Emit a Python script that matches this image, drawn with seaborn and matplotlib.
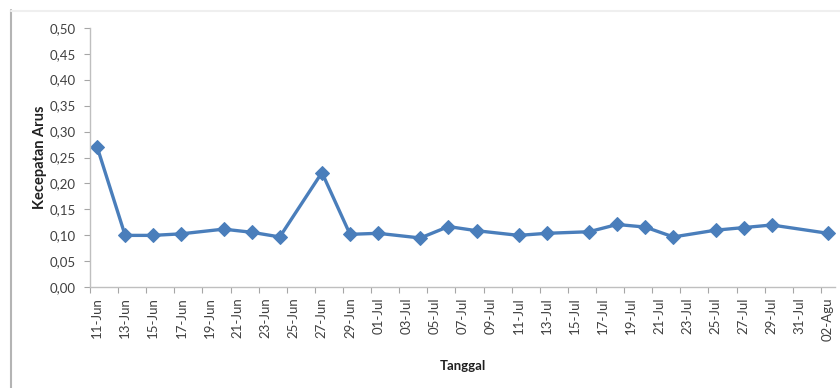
import matplotlib
matplotlib.use("Agg")
import matplotlib.pyplot as plt
import matplotlib.dates as mdates
from matplotlib.lines import Line2D
from matplotlib.ticker import FixedLocator
import seaborn as sns
import pandas as pd

# ---- data ----
dates = ["2019-06-11", "2019-06-13", "2019-06-15", "2019-06-17", "2019-06-20",
         "2019-06-22", "2019-06-24", "2019-06-27", "2019-06-29", "2019-07-01",
         "2019-07-04", "2019-07-06", "2019-07-08", "2019-07-11", "2019-07-13",
         "2019-07-16", "2019-07-18", "2019-07-20", "2019-07-22", "2019-07-25",
         "2019-07-27", "2019-07-29", "2019-08-02"]
speeds = [0.271, 0.100, 0.100, 0.103, 0.112, 0.106, 0.097, 0.221, 0.102, 0.104,
          0.095, 0.117, 0.109, 0.100, 0.104, 0.107, 0.121, 0.116, 0.097, 0.110,
          0.115, 0.120, 0.104]
tick_dates = ["2019-06-11", "2019-06-13", "2019-06-15", "2019-06-17", "2019-06-19",
              "2019-06-21", "2019-06-23", "2019-06-25", "2019-06-27", "2019-06-29",
              "2019-07-01", "2019-07-03", "2019-07-05", "2019-07-07", "2019-07-09",
              "2019-07-11", "2019-07-13", "2019-07-15", "2019-07-17", "2019-07-19",
              "2019-07-21", "2019-07-23", "2019-07-25", "2019-07-27", "2019-07-29",
              "2019-07-31", "2019-08-02"]
tick_labels = ["11-Jun", "13-Jun", "15-Jun", "17-Jun", "19-Jun", "21-Jun", "23-Jun",
               "25-Jun", "27-Jun", "29-Jun", "01-Jul", "03-Jul", "05-Jul", "07-Jul",
               "09-Jul", "11-Jul", "13-Jul", "15-Jul", "17-Jul", "19-Jul", "21-Jul",
               "23-Jul", "25-Jul", "27-Jul", "29-Jul", "31-Jul", "02-Agu"]
y_ticks = [0.00, 0.05, 0.10, 0.15, 0.20, 0.25, 0.30, 0.35, 0.40, 0.45, 0.50]

df = pd.DataFrame({"Tanggal": pd.to_datetime(dates), "Kecepatan Arus": speeds})

sns.set_theme(style="white")
plt.rcParams["font.family"] = ["Lato", "DejaVu Sans"]

W, H = 840, 388
fig = plt.figure(figsize=(W / 100, H / 100), dpi=100)
ax = fig.add_axes([90 / W, 1 - 287.3 / H, (835 - 90) / W, (287.3 - 27.7) / H])

blue = "#4A7EBB"
sns.lineplot(data=df, x="Tanggal", y="Kecepatan Arus", ax=ax, color=blue,
             linewidth=2.4, marker="D", markersize=7.5, markeredgecolor=blue,
             markerfacecolor=blue)

tnum = mdates.date2num(pd.to_datetime(tick_dates))
ax.set_xlim(tnum[0] - 0.5, tnum[-1] + 0.5)
ax.set_ylim(0, 0.5)

ax.set_xticks(tnum)
ax.set_xticklabels(tick_labels, rotation=90, fontsize=9.5, color="#404040")
ax.xaxis.set_minor_locator(FixedLocator(list(tnum - 0.5)))
ax.tick_params(axis="x", which="major", length=0, pad=7)
ax.tick_params(axis="x", which="minor", length=4, width=0.8, color="#A6A6A6",
               bottom=True)

ax.set_yticks(y_ticks)
ax.set_yticklabels([f"{v:.2f}".replace(".", ",") for v in y_ticks],
                   fontsize=9.5, color="#404040")
ax.tick_params(axis="y", which="major", length=4, width=0.8, color="#A6A6A6",
               left=True, pad=6)

for s in ["top", "right"]:
    ax.spines[s].set_visible(False)
for s in ["left", "bottom"]:
    ax.spines[s].set_color("#BFBFBF")
    ax.spines[s].set_linewidth(1.0)

ax.set_xlabel("Tanggal", fontsize=9.5, fontweight="bold", color="#202020", labelpad=14)
ax.set_ylabel("Kecepatan Arus", fontsize=10.5, fontweight="bold", color="#202020",
              labelpad=2)
ax.grid(False)

# chart-area border remnants
fig.add_artist(Line2D([10.5 / W, 10.5 / W], [0, 1 - 10 / H], color="#B4B4B4",
                      linewidth=1.5, transform=fig.transFigure))
fig.add_artist(Line2D([10.5 / W, 1], [1 - 10.5 / H, 1 - 10.5 / H], color="#EFEFEF",
                      linewidth=1.5, transform=fig.transFigure))

fig.savefig("out.png", dpi=100)
